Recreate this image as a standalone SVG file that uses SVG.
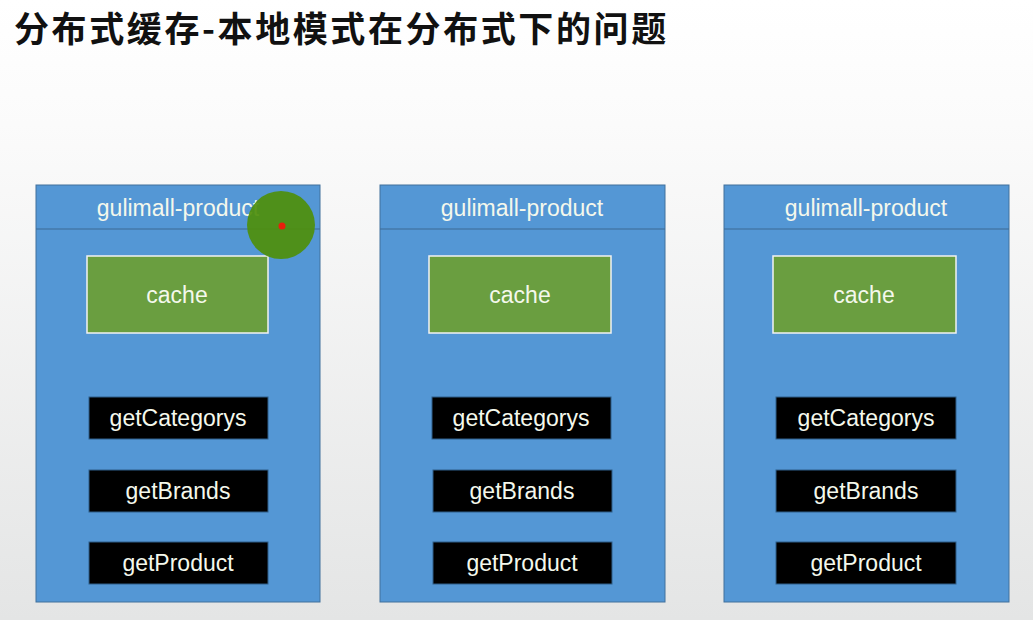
<svg xmlns="http://www.w3.org/2000/svg" width="1033" height="620" viewBox="0 0 1033 620">
<defs>
<linearGradient id="bg" x1="0" y1="0" x2="0" y2="1">
<stop offset="0" stop-color="#ffffff"/>
<stop offset="0.2" stop-color="#fbfbfb"/>
<stop offset="1" stop-color="#e4e5e5"/>
</linearGradient>
<style>
.svc{fill:#5497d5;stroke:#41719c;stroke-width:1}
.div{stroke:#3d6a94;stroke-width:1.2}
.cache{fill:#6a9e40;stroke:#f2f2f2;stroke-width:1.5}
.fn{fill:#000000;stroke:#2f5f8a;stroke-width:1}
.t{font-family:"Liberation Sans",Arial,sans-serif;font-size:23px;fill:#f4f8ec;text-anchor:middle}
.title{font-family:"Noto Sans CJK SC",sans-serif;font-size:35px;font-weight:bold;fill:#111111;letter-spacing:2.6px}
</style>
</defs>
<rect x="0" y="0" width="1033" height="620" fill="url(#bg)"/>
<text class="title" x="14" y="42">分布式缓存-本地模式在分布式下的问题</text>

<g id="service1">
<rect class="svc" x="36" y="185" width="284" height="417"/>
<line class="div" x1="36" y1="229" x2="320" y2="229"/>
<text class="t" x="178" y="216">gulimall-product</text>
<g id="cache1"><rect class="cache" x="87" y="256" width="181" height="77"/><text class="t" x="177" y="303">cache</text></g>
<g id="getCategorys1"><rect class="fn" x="89" y="397" width="179" height="42"/><text class="t" x="178" y="426">getCategorys</text></g>
<g id="getBrands1"><rect class="fn" x="89" y="470" width="179" height="42"/><text class="t" x="178" y="499">getBrands</text></g>
<g id="getProduct1"><rect class="fn" x="89" y="542" width="179" height="42"/><text class="t" x="178" y="571">getProduct</text></g>
</g>

<g id="service2">
<rect class="svc" x="380" y="185" width="285" height="417"/>
<line class="div" x1="380" y1="229" x2="665" y2="229"/>
<text class="t" x="522" y="216">gulimall-product</text>
<g id="cache2"><rect class="cache" x="429" y="256" width="182" height="77"/><text class="t" x="520" y="303">cache</text></g>
<g id="getCategorys2"><rect class="fn" x="432" y="397" width="179" height="42"/><text class="t" x="521" y="426">getCategorys</text></g>
<g id="getBrands2"><rect class="fn" x="433" y="470" width="179" height="42"/><text class="t" x="522" y="499">getBrands</text></g>
<g id="getProduct2"><rect class="fn" x="433" y="542" width="179" height="42"/><text class="t" x="522" y="571">getProduct</text></g>
</g>

<g id="service3">
<rect class="svc" x="724" y="185" width="285" height="417"/>
<line class="div" x1="724" y1="229" x2="1009" y2="229"/>
<text class="t" x="866" y="216">gulimall-product</text>
<g id="cache3"><rect class="cache" x="773" y="256" width="183" height="77"/><text class="t" x="864" y="303">cache</text></g>
<g id="getCategorys3"><rect class="fn" x="776" y="397" width="180" height="42"/><text class="t" x="866" y="426">getCategorys</text></g>
<g id="getBrands3"><rect class="fn" x="776" y="470" width="180" height="42"/><text class="t" x="866" y="499">getBrands</text></g>
<g id="getProduct3"><rect class="fn" x="776" y="542" width="180" height="42"/><text class="t" x="866" y="571">getProduct</text></g>
</g>

<g id="pointer">
<circle cx="281" cy="225" r="34" fill="#4f8f0c" opacity="0.93"/>
<circle cx="282" cy="226" r="3.5" fill="#e8200c"/>
</g>
</svg>
